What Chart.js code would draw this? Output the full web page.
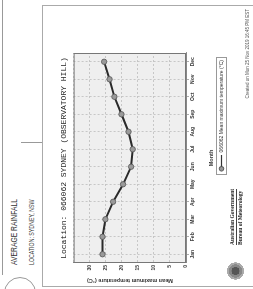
<!DOCTYPE html>
<html>
<head>
<meta charset="utf-8">
<script src="https://cdn.jsdelivr.net/npm/chart.js@4.4.0/dist/chart.umd.min.js"></script>
<style>
  html, body { margin: 0; padding: 0; background: #fff; overflow: hidden; }
  /* the whole page is turned a quarter turn anticlockwise, like the scan */
  #page { position: absolute; left: 0; top: 0; width: 289px; height: 253px;
          transform-origin: 0 0; transform: translate(0, 289px) rotate(-90deg);
          font-family: "Liberation Sans", Arial, sans-serif; color: #333; }
  #page div { position: absolute; }
  .rule-h { height: 0; border-top: 1px solid #999; }
  .rule-v { width: 0; border-left: 1px solid #999; }
  #ring { left: -20px; top: 4px; width: 30px; height: 30px; border: 1px solid #999; border-radius: 50%; background: #fff; }
  .head { white-space: nowrap; transform-origin: 0 50%; line-height: 1; }
  #h1 { left: 24px; top: 10px; font-size: 9px; transform: scaleX(0.75); }
  #h2 { left: 24px; top: 28px; font-size: 7px; transform: scaleX(0.75); }
  #box { left: 2px; top: 42px; width: 282px; height: 240px; border: 1px solid #aaa; box-sizing: border-box; }
  #wrap { left: 2px; top: 42px; width: 282px; height: 211px; }
  #crest { left: 8px; top: 227px; width: 20px; height: 17px; border-radius: 40%;
           background: radial-gradient(circle at 50% 50%, #555 0 30%, #888 31% 50%, #aaa 51% 65%, transparent 66%); }
  .gov { left: 44px; white-space: nowrap; font-family: "Liberation Serif", serif; font-weight: bold; font-size: 5.5px; line-height: 1; color: #222; }
  #foot { left: 100px; top: 246px; width: 180px; text-align: right; font-size: 4.5px; white-space: nowrap; color: #555; line-height: 1; }
</style>
</head>
<body>
<div id="page">
  <div class="rule-h" style="left:14px; top:2px; width:275px;"></div>
  <div id="ring"></div>
  <div id="h1" class="head">AVERAGE RAINFALL</div>
  <div id="h2" class="head">LOCATION: SYDNEY, NSW</div>
  <div class="rule-v" style="left:146px; top:21px; height:21px;"></div>
  <div id="box"></div>
  <div id="wrap"><canvas id="myChart" width="282" height="211"></canvas></div>
  <div id="crest"></div>
  <div class="gov" style="top:230px;">Australian Government</div>
  <div class="rule-h" style="left:44px; top:236px; width:56px; border-color:#444;"></div>
  <div class="gov" style="top:238px;">Bureau of Meteorology</div>
  <div id="foot">Created on Mon 25 Nov 2019 16:45 PM EST</div>
</div>
<script>
const months = ['Jan', 'Feb', 'Mar', 'Apr', 'May', 'Jun', 'Jul', 'Aug', 'Sep', 'Oct', 'Nov', 'Dec'];
const meanMaxTemp = [26.0, 26.0, 25.1, 22.7, 19.6, 17.1, 16.6, 17.9, 20.1, 22.3, 23.8, 25.5];
const tempTicks = [0, 5, 10, 15, 20, 25, 30];

const seriesLabel = '066062 Mean maximum temperature (\u00B0C)';

// little "o----" marker used in the legend
const marker = document.createElement('canvas');
marker.width = 17;
marker.height = 7;
(function() {
    const m = marker.getContext('2d');
    m.strokeStyle = '#333';
    m.lineWidth = 1.2;
    m.beginPath();
    m.moveTo(5, 3.5);
    m.lineTo(17, 3.5);
    m.stroke();
    m.beginPath();
    m.arc(3.2, 3.5, 2.3, 0, Math.PI * 2);
    m.fillStyle = '#999';
    m.fill();
    m.lineWidth = 0.8;
    m.stroke();
})();

const plotFrame = {
    id: 'plotFrame',
    beforeDraw(chart) {
        const a = chart.chartArea;
        const c = chart.ctx;
        c.save();
        c.fillStyle = '#efefef';
        c.fillRect(a.left, a.top, a.right - a.left, a.bottom - a.top);
        c.restore();
    },
    afterLayout(chart) {
        // legend sits right of centre in the original
        chart.legend.left += 54;
        chart.legend.right += 54;
    },
    afterDraw(chart) {
        const a = chart.chartArea;
        const c = chart.ctx;
        c.save();
        c.strokeStyle = '#777';
        c.lineWidth = 1;
        c.strokeRect(a.left + 0.5, a.top + 0.5, a.right - a.left - 1, a.bottom - a.top - 1);
        const hb = chart.legend.legendHitBoxes[0];
        if (hb) {
            c.strokeStyle = '#999';
            c.strokeRect(Math.round(hb.left) - 2.5, Math.round(hb.top) - 2.5, Math.round(hb.width) + 5, Math.round(hb.height) + 5);
        }
        c.restore();
    }
};

const ctx = document.getElementById('myChart').getContext('2d');
const myChart = new Chart(ctx, {
    type: 'line',
    data: {
        labels: months,
        datasets: [{
            label: seriesLabel,
            data: meanMaxTemp,
            borderColor: '#2a2a2a',
            borderWidth: 2,
            pointBackgroundColor: '#9a9a9a',
            pointBorderColor: '#555',
            pointBorderWidth: 0.8,
            pointRadius: 2.7,
            tension: 0,
            fill: false
        }]
    },
    plugins: [plotFrame],
    options: {
        responsive: false,
        animation: false,
        devicePixelRatio: 1,
        layout: { padding: { left: 0, right: 48, top: 0, bottom: 19 } },
        plugins: {
            title: {
                display: true,
                fullSize: false,
                text: 'Location: 066062 SYDNEY (OBSERVATORY HILL)',
                color: '#222',
                font: { family: '"Liberation Mono", "DejaVu Sans Mono", monospace', size: 8, weight: 'normal' },
                padding: { top: 17, bottom: 5 }
            },
            legend: {
                position: 'bottom',
                labels: {
                    color: '#333',
                    font: { size: 5, family: '"Liberation Sans", Arial, sans-serif' },
                    usePointStyle: true,
                    pointStyle: marker,
                    pointStyleWidth: 17,
                    boxHeight: 5,
                    padding: 2
                }
            },
            tooltip: { enabled: false }
        },
        scales: {
            x: {
                offset: true,
                grid: { offset: false, color: '#bdbdbd', lineWidth: 0.8, tickLength: 3, tickColor: '#999' },
                border: { display: true, color: '#888', dash: [2, 2] },
                ticks: { color: '#333', padding: 1, maxRotation: 0, autoSkip: false,
                         font: { size: 5, weight: 'bold', family: '"Liberation Sans", Arial, sans-serif' } },
                title: { display: true, text: 'Month', color: '#333', padding: { top: 0, bottom: 2 },
                         font: { size: 5.5, weight: 'bold', family: '"Liberation Sans", Arial, sans-serif' } },
                afterFit(s) { s.height = 31; }
            },
            y: {
                min: 0,
                max: 35,
                grid: { color: '#bdbdbd', lineWidth: 0.8, drawTicks: false },
                border: { display: true, color: '#888', dash: [2, 2] },
                ticks: {
                    stepSize: 5,
                    padding: 2,
                    color: '#333',
                    font: { size: 5, weight: 'bold', family: '"Liberation Sans", Arial, sans-serif' },
                    callback: function(v) { return tempTicks.includes(v) ? String(v) : ''; }
                },
                title: { display: true, text: 'Mean maximum temperature (\u00B0C)', color: '#333', padding: { top: 3, bottom: 0 },
                         font: { size: 5.5, weight: 'bold', family: '"Liberation Sans", Arial, sans-serif' } },
                afterFit(s) { s.width = 24; }
            }
        }
    }
});
</script>
</body>
</html>
